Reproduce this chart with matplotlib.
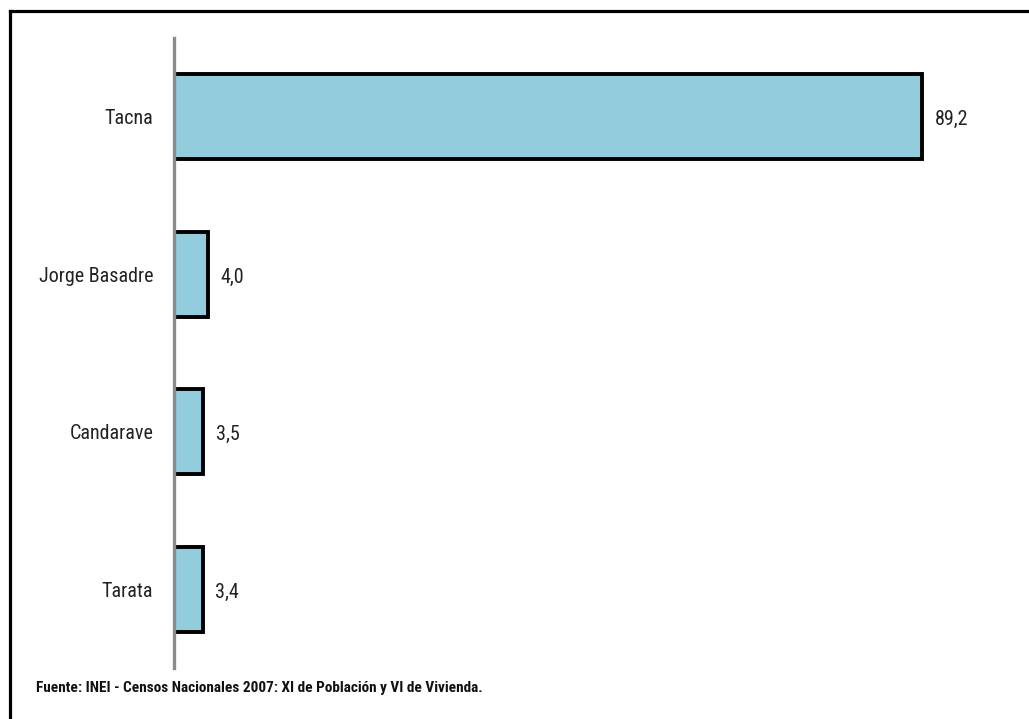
import matplotlib
matplotlib.use("Agg")
import matplotlib.pyplot as plt
from matplotlib import font_manager
from matplotlib.lines import Line2D

categories = ["Tacna", "Jorge Basadre", "Candarave", "Tarata"]
values = [89.2, 4.0, 3.5, 3.4]
value_labels = ["89,2", "4,0", "3,5", "3,4"]
source = "Fuente: INEI - Censos Nacionales 2007: XI de Población y VI de Vivienda."

names = {f.name for f in font_manager.fontManager.ttflist}
fam = [n for n in ["Liberation Sans Narrow", "Arial Narrow", "Roboto Condensed", "Liberation Sans"] if n in names]
plt.rcParams['font.family'] = fam + ["DejaVu Sans"]

W, H = 1029, 719
fig = plt.figure(figsize=(W / 100, H / 100), dpi=100)
ax = fig.add_axes([174 / W, (H - 668) / H, 838.6 / W, 630 / H])

ypos = list(range(len(categories)))
ax.barh(ypos, values, height=0.54, color="#93CDDD", edgecolor="black", linewidth=2.8, zorder=2)
for y, v, lab in zip(ypos, values, value_labels):
    ax.text(v + 1.5, y + 0.02, lab, va="center", ha="left", fontsize=14.5, color="#222222")

ax.set_xlim(0, 100)
ax.set_ylim(3.5, -0.5)
ax.set_yticks(ypos)
ax.set_yticklabels(categories, fontsize=14.5, color="#222222")
ax.tick_params(axis="y", length=0, pad=15)
ax.set_xticks([])
for s in ["top", "right", "bottom"]:
    ax.spines[s].set_visible(False)
ax.spines["left"].set_color("#8C8C8C")
ax.spines["left"].set_linewidth(2.4)
ax.spines["left"].set_zorder(5)

fig.text(36 / W, 1 - 688 / H, source, fontsize=11, fontweight="bold", va="center", ha="left", color="#111111")

fig.add_artist(Line2D([10 / W, 10 / W], [0, 1 - 11 / H], color="black", linewidth=2.3, transform=fig.transFigure))
fig.add_artist(Line2D([10 / W, 1], [1 - 11 / H, 1 - 11 / H], color="black", linewidth=2.3, transform=fig.transFigure))

fig.savefig("out.png", dpi=100)
